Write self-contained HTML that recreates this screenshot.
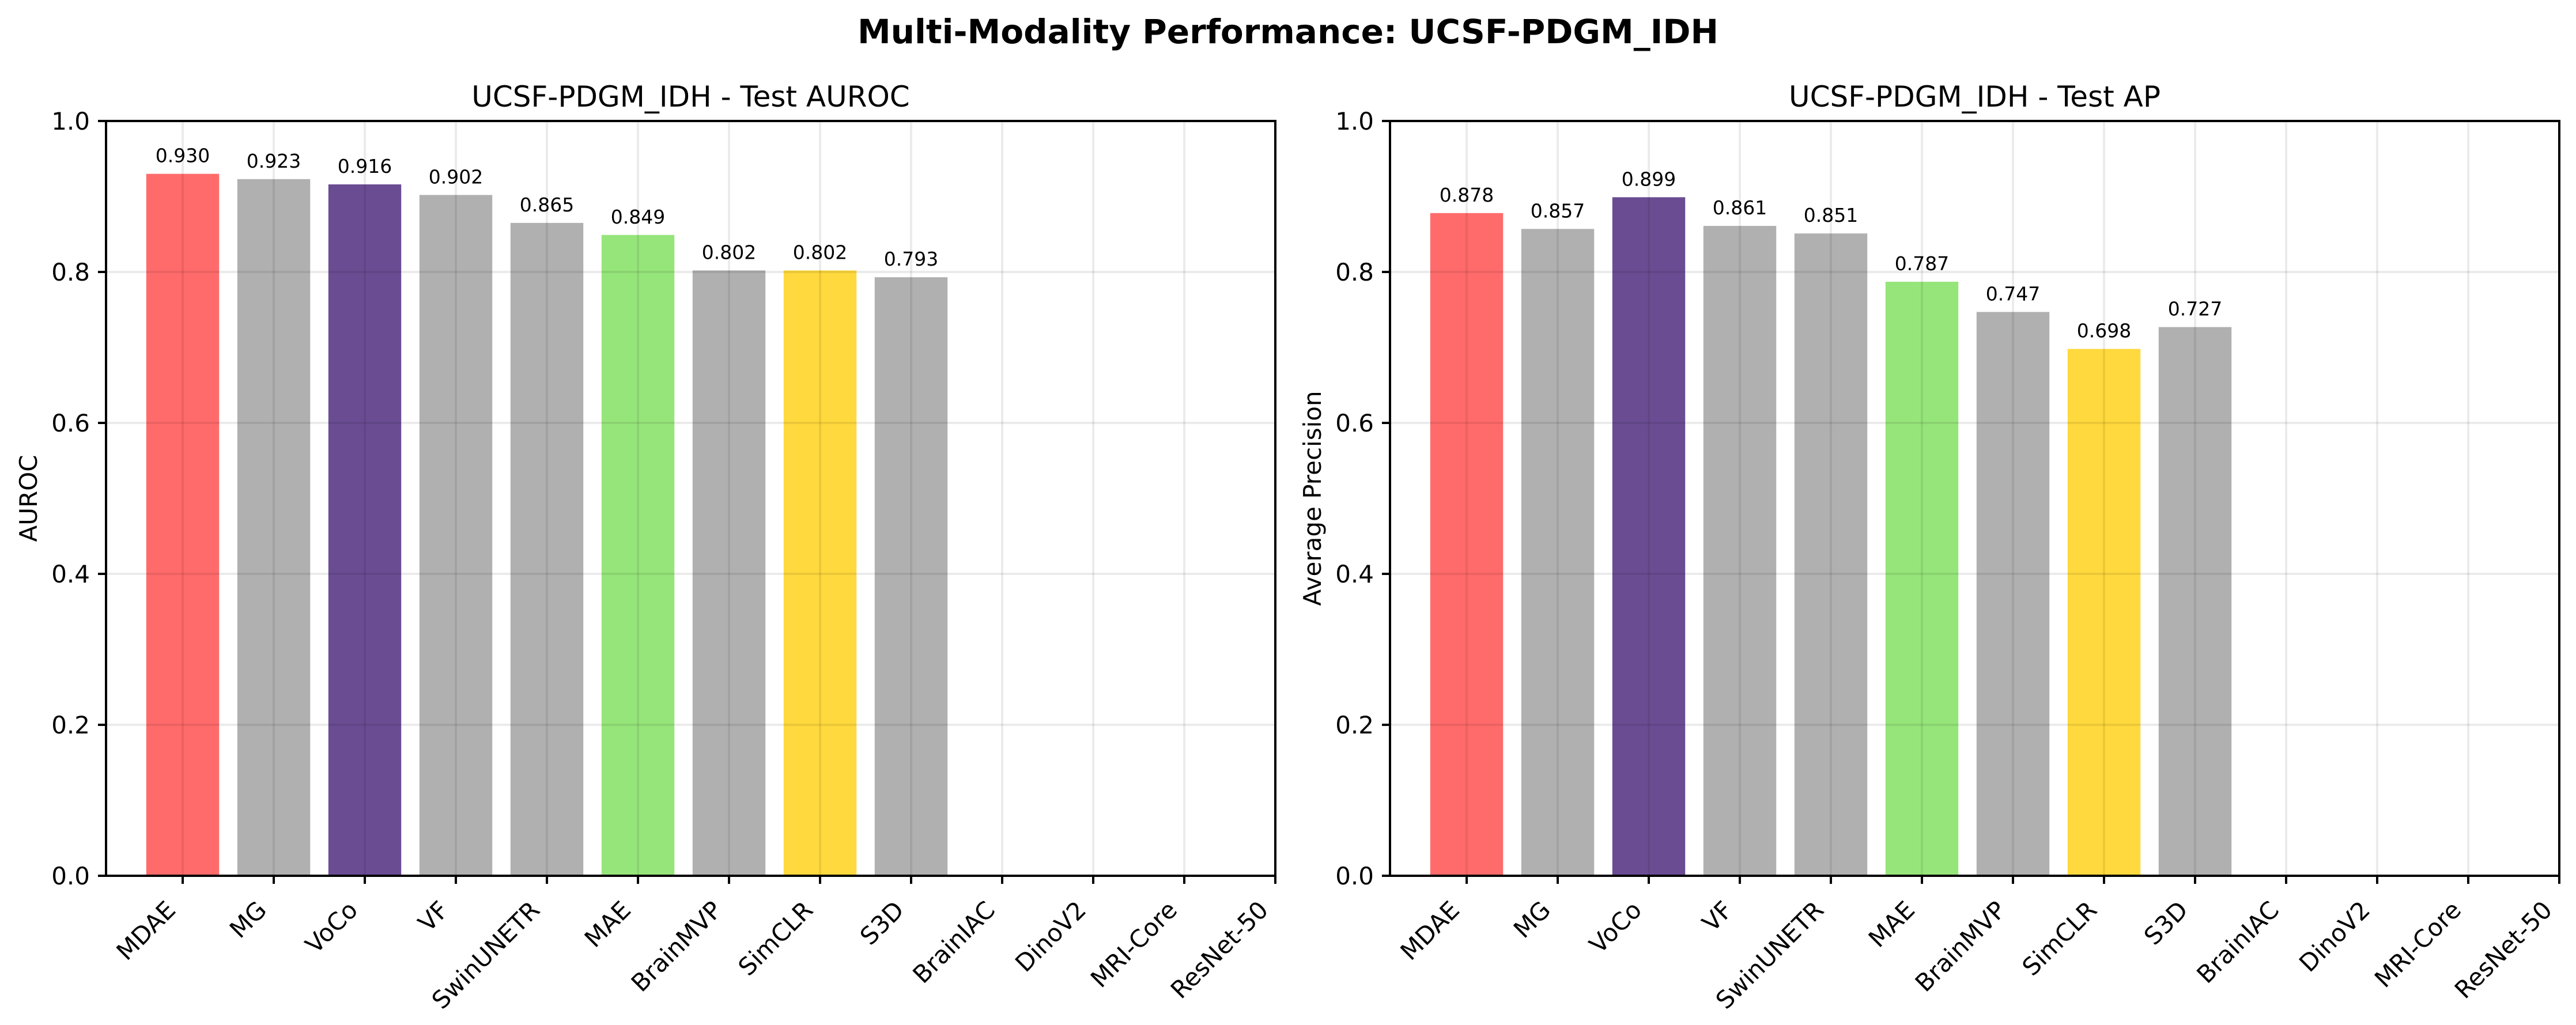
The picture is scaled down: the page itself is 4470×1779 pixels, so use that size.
<!DOCTYPE html>
<html><head><meta charset="utf-8"><style>
html,body{margin:0;padding:0;background:#fff;}
svg{display:block;font-family:"DejaVu Sans","Liberation Sans",sans-serif;}
</style></head><body>
<svg id="fig" width="4470" height="1779" xmlns="http://www.w3.org/2000/svg">
<rect width="4470" height="1779" fill="#fff"/>
<text x="2235" y="75" text-anchor="middle" font-size="58" font-weight="bold">Multi-Modality Performance: UCSF-PDGM_IDH</text>
</svg>
<script>
const categories = ["MDAE","MG","VoCo","VF","SwinUNETR","MAE","BrainMVP","SimCLR","S3D","BrainIAC","DinoV2","MRI-Core","ResNet-50"];
const aurocValues = [0.930,0.923,0.916,0.902,0.865,0.849,0.802,0.802,0.793,null,null,null,null];
const apValues = [0.878,0.857,0.899,0.861,0.851,0.787,0.747,0.698,0.727,null,null,null,null];
const barColors = ["#ff6b6b","#b0b0b0","#6a4c93","#b0b0b0","#b0b0b0","#96e57a","#b0b0b0","#ffd93d","#b0b0b0","#b0b0b0","#b0b0b0","#b0b0b0","#b0b0b0"];
const yTicks = [0,0.2,0.4,0.6,0.8,1.0];
const yTickLabels = ["0.0","0.2","0.4","0.6","0.8","1.0"];

const svg = document.getElementById('fig');
const NS = "http://www.w3.org/2000/svg";
function mk(tag, attrs, parent){const e=document.createElementNS(NS,tag);for(const k in attrs)e.setAttribute(k,attrs[k]);(parent||svg).appendChild(e);return e;}

function drawPanel(left, title, ylabel, values, key){
  const top=210,bottom=1520,width=2029,right=left+width;
  const xMin=-0.842,xMax=12;
  const xs=v=>left+(v-xMin)/(xMax-xMin)*width;
  const ys=v=>bottom-(v-0)/(1-0)*(bottom-top);
  const g=mk('g',{});
  
  
  const t=mk('text',{x:(left+right)/2,y:185,'text-anchor':'middle','font-size':50},g);
  t.textContent=title;
  
  
  const bw=0.8;
  values.forEach((v,i)=>{
    if(v==null) return;
    const r=mk('rect',{x:xs(i-bw/2),y:ys(v),width:xs(i+bw/2)-xs(i-bw/2),height:bottom-ys(v),fill:barColors[i]},g);
    
    
    const lb=mk('text',{x:xs(i),y:ys(v)-20,'text-anchor':'middle','font-size':33},g);
    lb.textContent=v.toFixed(3);
    
    
  });
  yTicks.forEach(v=>{
    const l=mk('line',{x1:left,x2:right,y1:ys(v),y2:ys(v),stroke:'rgba(0,0,0,0.08)','stroke-width':4},g);
    
    
  });
  categories.forEach((c,i)=>{
    const l=mk('line',{x1:xs(i),x2:xs(i),y1:top,y2:bottom,stroke:'rgba(0,0,0,0.08)','stroke-width':4},g);
    
    
  });
  const f=mk('rect',{x:left,y:top,width:width,height:bottom-top,fill:'none',stroke:'#000','stroke-width':4},g);
  
  
  yTicks.forEach((v,i)=>{
    mk('line',{x1:left-14,x2:left,y1:ys(v),y2:ys(v),stroke:'#000','stroke-width':4},g);
    const tl=mk('text',{x:left-28,y:ys(v)+15,'text-anchor':'end','font-size':42},g);
    tl.textContent=yTickLabels[i];
    
    
  });
  categories.forEach((c,i)=>{
    const x=xs(i);
    mk('line',{x1:x,x2:x,y1:bottom,y2:bottom+14,stroke:'#000','stroke-width':4},g);
    const tl=mk('text',{x:x-10,y:1582,'text-anchor':'end','font-size':42,transform:'rotate(-45 '+(x-10)+' 1582)'},g);
    tl.textContent=c;
    
    
  });
  const yl=mk('text',{x:left-120,y:(top+bottom)/2,'text-anchor':'middle','font-size':42,transform:'rotate(-90 '+(left-120)+' '+((top+bottom)/2)+')'},g);
  yl.textContent=ylabel;
  
  
}
drawPanel(184,"UCSF-PDGM_IDH - Test AUROC","AUROC",aurocValues,'auroc');
drawPanel(2412,"UCSF-PDGM_IDH - Test AP","Average Precision",apValues,'ap');
</script>
</body></html>
